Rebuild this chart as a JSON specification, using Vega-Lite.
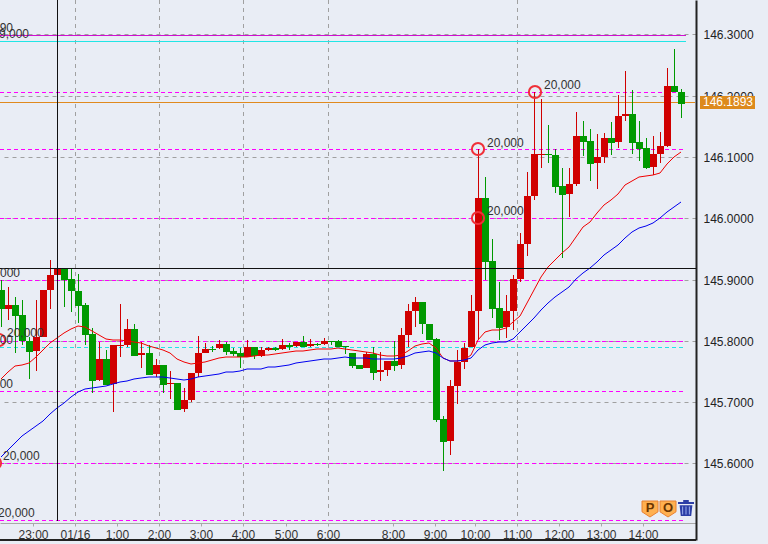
{"$schema":"https://vega.github.io/schema/vega-lite/v6.json","width":696,"height":540,"autosize":{"type":"none"},"padding":{"left":0,"top":0,"right":72,"bottom":4},"background":"#e9edf5",
"config":{"view":{"stroke":null},"text":{"font":"Liberation Sans"},"axis":{"labelFont":"Liberation Sans"}},
"datasets":{
"candles":[
{"k":0,"o":145.8830,"h":145.8993,"l":145.8227,"c":145.8520,"ma1":145.7378,"ma2":145.6106},
{"k":1,"o":145.8520,"h":145.8879,"l":145.8341,"c":145.8585,"ma1":145.7493,"ma2":145.6220},
{"k":2,"o":145.8585,"h":145.8716,"l":145.7802,"c":145.8406,"ma1":145.7590,"ma2":145.6334},
{"k":3,"o":145.8422,"h":145.8667,"l":145.7933,"c":145.7998,"ma1":145.7607,"ma2":145.6449},
{"k":4,"o":145.7998,"h":145.8063,"l":145.7378,"c":145.7819,"ma1":145.7639,"ma2":145.6530},
{"k":5,"o":145.7835,"h":145.8667,"l":145.7509,"c":145.8063,"ma1":145.7737,"ma2":145.6612},
{"k":6,"o":145.8063,"h":145.8830,"l":145.8063,"c":145.8830,"ma1":145.7851,"ma2":145.6693},
{"k":7,"o":145.8830,"h":145.9320,"l":145.8520,"c":145.9075,"ma1":145.7966,"ma2":145.6807},
{"k":8,"o":145.9075,"h":145.9450,"l":145.8896,"c":145.9173,"ma1":145.8047,"ma2":145.6905},
{"k":9,"o":145.9173,"h":145.9173,"l":145.8553,"c":145.8993,"ma1":145.8129,"ma2":145.6987},
{"k":10,"o":145.9010,"h":145.9189,"l":145.8471,"c":145.8814,"ma1":145.8194,"ma2":145.7085},
{"k":11,"o":145.8814,"h":145.9091,"l":145.8292,"c":145.8569,"ma1":145.8243,"ma2":145.7166},
{"k":12,"o":145.8585,"h":145.8618,"l":145.7933,"c":145.8096,"ma1":145.8227,"ma2":145.7215},
{"k":13,"o":145.8112,"h":145.8210,"l":145.7150,"c":145.7346,"ma1":145.8161,"ma2":145.7232},
{"k":14,"o":145.7362,"h":145.7982,"l":145.7346,"c":145.7705,"ma1":145.8096,"ma2":145.7248},
{"k":15,"o":145.7705,"h":145.7851,"l":145.7281,"c":145.7281,"ma1":145.8031,"ma2":145.7265},
{"k":16,"o":145.7297,"h":145.7933,"l":145.6840,"c":145.7933,"ma1":145.8014,"ma2":145.7297},
{"k":17,"o":145.7917,"h":145.8602,"l":145.7737,"c":145.7933,"ma1":145.8014,"ma2":145.7330},
{"k":18,"o":145.7933,"h":145.8357,"l":145.7900,"c":145.8194,"ma1":145.7998,"ma2":145.7346},
{"k":19,"o":145.8194,"h":145.8276,"l":145.7754,"c":145.7754,"ma1":145.7982,"ma2":145.7378},
{"k":20,"o":145.7770,"h":145.7982,"l":145.7558,"c":145.7802,"ma1":145.7966,"ma2":145.7395},
{"k":21,"o":145.7802,"h":145.7933,"l":145.7444,"c":145.7444,"ma1":145.7917,"ma2":145.7411},
{"k":22,"o":145.7460,"h":145.7705,"l":145.7411,"c":145.7607,"ma1":145.7884,"ma2":145.7411},
{"k":23,"o":145.7607,"h":145.7607,"l":145.7150,"c":145.7281,"ma1":145.7851,"ma2":145.7411},
{"k":24,"o":145.7297,"h":145.7509,"l":145.7052,"c":145.7313,"ma1":145.7802,"ma2":145.7395},
{"k":25,"o":145.7313,"h":145.7313,"l":145.6873,"c":145.6873,"ma1":145.7705,"ma2":145.7378},
{"k":26,"o":145.6889,"h":145.7232,"l":145.6840,"c":145.7036,"ma1":145.7656,"ma2":145.7362},
{"k":27,"o":145.7036,"h":145.7476,"l":145.7003,"c":145.7476,"ma1":145.7623,"ma2":145.7378},
{"k":28,"o":145.7476,"h":145.8080,"l":145.7411,"c":145.7802,"ma1":145.7639,"ma2":145.7411},
{"k":29,"o":145.7802,"h":145.7966,"l":145.7802,"c":145.7868,"ma1":145.7656,"ma2":145.7428},
{"k":30,"o":145.7868,"h":145.7917,"l":145.7819,"c":145.7851,"ma1":145.7688,"ma2":145.7444},
{"k":31,"o":145.7884,"h":145.8014,"l":145.7868,"c":145.7949,"ma1":145.7721,"ma2":145.7460},
{"k":32,"o":145.7949,"h":145.7982,"l":145.7770,"c":145.7819,"ma1":145.7737,"ma2":145.7493},
{"k":33,"o":145.7835,"h":145.7884,"l":145.7754,"c":145.7786,"ma1":145.7737,"ma2":145.7493},
{"k":34,"o":145.7802,"h":145.7884,"l":145.7558,"c":145.7737,"ma1":145.7737,"ma2":145.7509},
{"k":35,"o":145.7737,"h":145.8014,"l":145.7737,"c":145.7900,"ma1":145.7737,"ma2":145.7542},
{"k":36,"o":145.7900,"h":145.7900,"l":145.7705,"c":145.7754,"ma1":145.7754,"ma2":145.7542},
{"k":37,"o":145.7754,"h":145.7900,"l":145.7737,"c":145.7851,"ma1":145.7770,"ma2":145.7542},
{"k":38,"o":145.7851,"h":145.7900,"l":145.7835,"c":145.7884,"ma1":145.7770,"ma2":145.7574},
{"k":39,"o":145.7884,"h":145.7900,"l":145.7835,"c":145.7851,"ma1":145.7786,"ma2":145.7574},
{"k":40,"o":145.7868,"h":145.8031,"l":145.7851,"c":145.7933,"ma1":145.7802,"ma2":145.7590},
{"k":41,"o":145.7933,"h":145.7966,"l":145.7851,"c":145.7900,"ma1":145.7819,"ma2":145.7607},
{"k":42,"o":145.7917,"h":145.7982,"l":145.7900,"c":145.7982,"ma1":145.7835,"ma2":145.7639},
{"k":43,"o":145.7982,"h":145.8080,"l":145.7900,"c":145.7900,"ma1":145.7835,"ma2":145.7656},
{"k":44,"o":145.7917,"h":145.8031,"l":145.7900,"c":145.7949,"ma1":145.7851,"ma2":145.7672},
{"k":45,"o":145.7949,"h":145.7966,"l":145.7917,"c":145.7933,"ma1":145.7868,"ma2":145.7688},
{"k":46,"o":145.7949,"h":145.8047,"l":145.7933,"c":145.7998,"ma1":145.7868,"ma2":145.7705},
{"k":47,"o":145.7998,"h":145.7998,"l":145.7933,"c":145.7982,"ma1":145.7868,"ma2":145.7705},
{"k":48,"o":145.7998,"h":145.8014,"l":145.7900,"c":145.7900,"ma1":145.7884,"ma2":145.7721},
{"k":49,"o":145.7917,"h":145.7917,"l":145.7786,"c":145.7900,"ma1":145.7868,"ma2":145.7737},
{"k":50,"o":145.7802,"h":145.7802,"l":145.7558,"c":145.7590,"ma1":145.7851,"ma2":145.7721},
{"k":51,"o":145.7607,"h":145.7607,"l":145.7542,"c":145.7542,"ma1":145.7835,"ma2":145.7721},
{"k":52,"o":145.7558,"h":145.7819,"l":145.7558,"c":145.7786,"ma1":145.7819,"ma2":145.7721},
{"k":53,"o":145.7786,"h":145.7900,"l":145.7362,"c":145.7476,"ma1":145.7802,"ma2":145.7705},
{"k":54,"o":145.7493,"h":145.7819,"l":145.7346,"c":145.7525,"ma1":145.7770,"ma2":145.7705},
{"k":55,"o":145.7525,"h":145.7672,"l":145.7428,"c":145.7672,"ma1":145.7754,"ma2":145.7705},
{"k":56,"o":145.7672,"h":145.7998,"l":145.7509,"c":145.7590,"ma1":145.7754,"ma2":145.7705},
{"k":57,"o":145.7607,"h":145.8210,"l":145.7542,"c":145.8096,"ma1":145.7770,"ma2":145.7721},
{"k":58,"o":145.8096,"h":145.8602,"l":145.7900,"c":145.8488,"ma1":145.7835,"ma2":145.7754},
{"k":59,"o":145.8488,"h":145.8716,"l":145.8227,"c":145.8634,"ma1":145.7917,"ma2":145.7802},
{"k":60,"o":145.8634,"h":145.8634,"l":145.8112,"c":145.8276,"ma1":145.7949,"ma2":145.7819},
{"k":61,"o":145.8276,"h":145.8276,"l":145.8014,"c":145.8014,"ma1":145.7966,"ma2":145.7835},
{"k":62,"o":145.8031,"h":145.8047,"l":145.6677,"c":145.6710,"ma1":145.7884,"ma2":145.7802},
{"k":63,"o":145.6726,"h":145.6775,"l":145.5877,"c":145.6351,"ma1":145.7721,"ma2":145.7721},
{"k":64,"o":145.6367,"h":145.7362,"l":145.6139,"c":145.7265,"ma1":145.7672,"ma2":145.7672},
{"k":65,"o":145.7265,"h":145.7851,"l":145.6971,"c":145.7656,"ma1":145.7672,"ma2":145.7672},
{"k":66,"o":145.7656,"h":145.7966,"l":145.7542,"c":145.7884,"ma1":145.7688,"ma2":145.7688},
{"k":67,"o":145.7900,"h":145.8749,"l":145.7900,"c":145.8488,"ma1":145.7770,"ma2":145.7721},
{"k":68,"o":145.8488,"h":146.1130,"l":145.8014,"c":146.0331,"ma1":145.8014,"ma2":145.7851},
{"k":69,"o":146.0331,"h":146.0674,"l":145.8993,"c":145.9287,"ma1":145.8145,"ma2":145.7933},
{"k":70,"o":145.9303,"h":145.9662,"l":145.8373,"c":145.8520,"ma1":145.8178,"ma2":145.7966},
{"k":71,"o":145.8537,"h":145.8961,"l":145.8014,"c":145.8210,"ma1":145.8178,"ma2":145.7982},
{"k":72,"o":145.8227,"h":145.8749,"l":145.8047,"c":145.8488,"ma1":145.8210,"ma2":145.7982},
{"k":73,"o":145.8488,"h":145.9075,"l":145.8178,"c":145.9010,"ma1":145.8308,"ma2":145.8031},
{"k":74,"o":145.9010,"h":145.9760,"l":145.8961,"c":145.9581,"ma1":145.8406,"ma2":145.8145},
{"k":75,"o":145.9581,"h":146.0755,"l":145.9385,"c":146.0364,"ma1":145.8618,"ma2":145.8259},
{"k":76,"o":146.0364,"h":146.2060,"l":146.0298,"c":146.1049,"ma1":145.8830,"ma2":145.8373},
{"k":77,"o":146.1033,"h":146.1946,"l":146.0820,"c":146.1049,"ma1":145.9042,"ma2":145.8504},
{"k":78,"o":146.1049,"h":146.1522,"l":146.0902,"c":146.1033,"ma1":145.9205,"ma2":145.8618},
{"k":79,"o":146.1033,"h":146.1130,"l":146.0413,"c":146.0510,"ma1":145.9320,"ma2":145.8716},
{"k":80,"o":146.0527,"h":146.0820,"l":145.9352,"c":146.0380,"ma1":145.9434,"ma2":145.8798},
{"k":81,"o":146.0396,"h":146.0820,"l":146.0021,"c":146.0559,"ma1":145.9532,"ma2":145.8879},
{"k":82,"o":146.0559,"h":146.1734,"l":146.0527,"c":146.1342,"ma1":145.9695,"ma2":145.9010},
{"k":83,"o":146.1342,"h":146.1587,"l":146.1016,"c":146.1245,"ma1":145.9858,"ma2":145.9108},
{"k":84,"o":146.1261,"h":146.1457,"l":146.0608,"c":146.0886,"ma1":145.9940,"ma2":145.9189},
{"k":85,"o":146.0902,"h":146.1375,"l":146.0478,"c":146.1000,"ma1":146.0086,"ma2":145.9287},
{"k":86,"o":146.1000,"h":146.1391,"l":146.0902,"c":146.1310,"ma1":146.0217,"ma2":145.9401},
{"k":87,"o":146.1310,"h":146.1571,"l":146.1033,"c":146.1228,"ma1":146.0298,"ma2":145.9483},
{"k":88,"o":146.1245,"h":146.2011,"l":146.1147,"c":146.1669,"ma1":146.0396,"ma2":145.9564},
{"k":89,"o":146.1669,"h":146.2403,"l":146.1587,"c":146.1701,"ma1":146.0543,"ma2":145.9679},
{"k":90,"o":146.1701,"h":146.2093,"l":146.1049,"c":146.1228,"ma1":146.0608,"ma2":145.9776},
{"k":91,"o":146.1245,"h":146.1587,"l":146.0935,"c":146.1130,"ma1":146.0674,"ma2":145.9842},
{"k":92,"o":146.1147,"h":146.1310,"l":146.0804,"c":146.0820,"ma1":146.0690,"ma2":145.9875},
{"k":93,"o":146.0837,"h":146.1342,"l":146.0706,"c":146.1049,"ma1":146.0706,"ma2":145.9923},
{"k":94,"o":146.1049,"h":146.1408,"l":146.0902,"c":146.1179,"ma1":146.0739,"ma2":146.0005},
{"k":95,"o":146.1179,"h":146.2452,"l":146.1163,"c":146.2158,"ma1":146.0886,"ma2":146.0103},
{"k":96,"o":146.2158,"h":146.2762,"l":146.2060,"c":146.2060,"ma1":146.1000,"ma2":146.0184},
{"k":97,"o":146.2060,"h":146.2109,"l":146.1636,"c":146.1864,"ma1":146.1081,"ma2":146.0266}
],
"levelsDashed":[
{"price":146.2060,"kind":"magenta","from":-0.2,"to":97.7},
{"price":146.1130,"kind":"magenta","from":-0.2,"to":97.7},
{"price":146.0005,"kind":"magenta","from":-0.2,"to":97.7},
{"price":145.8993,"kind":"magenta","from":-0.2,"to":97.7},
{"price":145.7998,"kind":"magenta","from":-0.2,"to":97.7},
{"price":145.7900,"kind":"cyan","from":-0.2,"to":97.7},
{"price":145.7183,"kind":"magenta","from":-0.2,"to":97.7},
{"price":145.6008,"kind":"magenta","from":-0.2,"to":97.7},
{"price":145.5078,"kind":"magenta","from":-0.2,"to":97.7}
],
"levelsSolid":[
{"price":146.2990,"kind":"magentaSolid","from":-0.2,"to":97.7},
{"price":146.2892,"kind":"cyanSolid","from":-0.2,"to":97.7},
{"price":146.1893,"kind":"orange","from":-0.2,"to":99}
],
"vgrid":[{"k":10.55,"top":146.3561,"bottom":145.5054},{"k":22.55,"top":146.3561,"bottom":145.5054},{"k":34.55,"top":146.3561,"bottom":145.5054},{"k":46.65,"top":146.3561,"bottom":145.5054},{"k":73.6,"top":146.3561,"bottom":145.5054}],
"markers":[{"k":68,"price":146.1130},{"k":68,"price":146.0005},{"k":76.1,"price":146.2060},{"k":-0.33,"price":145.8014},{"k":-0.9,"price":145.6008}],
"labelsLeft":[
{"k":69.3,"price":146.1228,"label":"20,000"},
{"k":69.3,"price":146.0119,"label":"20,000"},
{"k":77.4,"price":146.2174,"label":"20,000"},
{"k":0.8,"price":145.8129,"label":"20,000"},
{"k":0.24,"price":145.6122,"label":"20,000"},
{"k":-0.47,"price":145.5193,"label":"20,000"}],
"labelsRight":[
{"k":1.65,"price":146.3105,"label":"90"},
{"k":3.95,"price":146.3007,"label":"9,000"},
{"k":2.65,"price":145.9107,"label":"000"},
{"k":1.65,"price":145.8014,"label":"00"},
{"k":1.65,"price":145.7297,"label":"00"}]
},
"layer":[
{"data":{"name":"vgrid"},"mark":{"type":"rule","strokeDash":[4,4],"color":"#a0a0a0","strokeWidth":1,"xOffset":0.5},
"encoding":{"x":{"field":"k","type":"quantitative","scale":{"domain":[-0.185,99.1],"round":true,"padding":0},"axis":{"title":null,"orient":"bottom","offset":-17,"values":[4.56,10.55,16.55,22.55,28.55,34.55,40.55,46.65,55.9,61.9,67.6,73.6,79.6,85.6,91.6],"labelExpr":"({'4.56':'23:00','10.55':'01/16','16.55':'1:00','22.55':'2:00','28.55':'3:00','34.55':'4:00','40.55':'5:00','46.65':'6:00','55.9':'8:00','61.9':'9:00','67.6':'10:00','73.6':'11:00','79.6':'12:00','85.6':'13:00','91.6':'14:00'})[datum.value]","labelFontSize":12,"labelColor":"#333333","labelPadding":3,"labelOverlap":false,"labelFlush":false,"domainColor":"#a8a8a8","tickColor":"#a8a8a8","tickSize":3,"grid":false}},
"y":{"field":"top","type":"quantitative","scale":{"domain":[145.4752,146.3561],"round":true},"axis":{"title":null,"orient":"right","values":[145.6,145.7,145.8,145.9,146.0,146.1,146.2,146.3],"format":".4f","grid":true,"gridDash":[4,4],"gridColor":"#a0a0a0","domainColor":"#222222","domainWidth":2,"tickSize":0,"labelPadding":7,"labelFontSize":12,"labelColor":"#222222","labelOverlap":false,"labelFlush":false}},
"y2":{"field":"bottom"}}},
{"data":{"name":"levelsSolid"},"mark":{"type":"rule","strokeWidth":1,"yOffset":0.5},
"encoding":{"x":{"field":"from","type":"quantitative","scale":{"domain":[-0.185,99.1]}},"x2":{"field":"to"},"y":{"field":"price","type":"quantitative","scale":{"domain":[145.4752,146.3561]}},
"color":{"field":"kind","type":"nominal","legend":null,"scale":{"domain":["magenta","magentaSolid","cyan","cyanSolid","orange"],"range":["#ff00ff","#d010d0","#22e5e5","#22e5e5","#e08a1e"]}}}},
{"data":{"name":"levelsDashed"},"mark":{"type":"rule","strokeWidth":1,"yOffset":0.5,"strokeDash":[4,3]},
"encoding":{"x":{"field":"from","type":"quantitative","scale":{"domain":[-0.185,99.1]}},"x2":{"field":"to"},"y":{"field":"price","type":"quantitative","scale":{"domain":[145.4752,146.3561]}},
"color":{"field":"kind","type":"nominal","legend":null,"scale":{"domain":["magenta","magentaSolid","cyan","cyanSolid","orange"],"range":["#ff00ff","#d010d0","#22e5e5","#22e5e5","#e08a1e"]}}}},
{"data":{"name":"candles"},"mark":{"type":"rule","strokeWidth":1,"xOffset":0.5},
"encoding":{"x":{"field":"k","type":"quantitative","scale":{"domain":[-0.185,99.1]}},"y":{"field":"h","type":"quantitative","scale":{"domain":[145.4752,146.3561]}},"y2":{"field":"l"},
"color":{"condition":{"test":"datum.c>=datum.o","value":"#d00000"},"value":"#009900"}}},
{"data":{"name":"candles"},"mark":{"type":"bar","size":7,"xOffset":0.5},
"encoding":{"x":{"field":"k","type":"quantitative","scale":{"domain":[-0.185,99.1]}},"y":{"field":"o","type":"quantitative","scale":{"domain":[145.4752,146.3561]}},"y2":{"field":"c"},
"color":{"condition":{"test":"datum.c>=datum.o","value":"#d00000"},"value":"#009900"}}},
{"data":{"name":"candles"},"mark":{"type":"line","color":"#f00000","strokeWidth":1},
"encoding":{"x":{"field":"k","type":"quantitative","scale":{"domain":[-0.185,99.1]}},"y":{"field":"ma1","type":"quantitative","scale":{"domain":[145.4752,146.3561]}}}},
{"data":{"name":"candles"},"mark":{"type":"line","color":"#0000f0","strokeWidth":1},
"encoding":{"x":{"field":"k","type":"quantitative","scale":{"domain":[-0.185,99.1]}},"y":{"field":"ma2","type":"quantitative","scale":{"domain":[145.4752,146.3561]}}}},
{"mark":{"type":"rule","color":"#111111","strokeWidth":1,"xOffset":0.5},"data":{"values":[{"k":7.9,"top":146.3561,"bottom":145.5054}]},
"encoding":{"x":{"field":"k","type":"quantitative","scale":{"domain":[-0.185,99.1]}},"y":{"field":"top","type":"quantitative","scale":{"domain":[145.4752,146.3561]}},"y2":{"field":"bottom"}}},
{"mark":{"type":"rule","color":"#111111","strokeWidth":1,"yOffset":0.5},"data":{"values":[{"price":145.9189,"from":-0.185,"to":99.1}]},
"encoding":{"x":{"field":"from","type":"quantitative","scale":{"domain":[-0.185,99.1]}},"x2":{"field":"to"},"y":{"field":"price","type":"quantitative","scale":{"domain":[145.4752,146.3561]}}}},
{"mark":{"type":"rule","color":"#222222","strokeWidth":2},"data":{"values":[{"price":145.4752,"from":-0.185,"to":99.1}]},
"encoding":{"x":{"field":"from","type":"quantitative","scale":{"domain":[-0.185,99.1]}},"x2":{"field":"to"},"y":{"field":"price","type":"quantitative","scale":{"domain":[145.4752,146.3561]}}}},
{"data":{"name":"markers"},"mark":{"type":"point","filled":false,"stroke":"#f03038","strokeWidth":2,"size":150,"opacity":1},
"encoding":{"x":{"field":"k","type":"quantitative","scale":{"domain":[-0.185,99.1]}},"y":{"field":"price","type":"quantitative","scale":{"domain":[145.4752,146.3561]}}}},
{"data":{"name":"labelsLeft"},"mark":{"type":"text","align":"left","baseline":"middle","fontSize":12,"color":"#333333"},
"encoding":{"x":{"field":"k","type":"quantitative","scale":{"domain":[-0.185,99.1]}},"y":{"field":"price","type":"quantitative","scale":{"domain":[145.4752,146.3561]}},"text":{"field":"label"}}},
{"data":{"name":"labelsRight"},"mark":{"type":"text","align":"right","baseline":"middle","fontSize":12,"color":"#333333"},
"encoding":{"x":{"field":"k","type":"quantitative","scale":{"domain":[-0.185,99.1]}},"y":{"field":"price","type":"quantitative","scale":{"domain":[145.4752,146.3561]}},"text":{"field":"label"}}},
{"mark":{"type":"rect","color":"#dd8a1c"},"data":{"values":[{"a":99.67,"b":107.5,"top":146.1995,"bot":146.1783}]},
"encoding":{"x":{"field":"a","type":"quantitative","scale":{"domain":[-0.185,99.1]}},"x2":{"field":"b"},"y":{"field":"top","type":"quantitative","scale":{"domain":[145.4752,146.3561]}},"y2":{"field":"bot"}}},
{"mark":{"type":"text","color":"#ffffff","fontSize":12,"baseline":"middle","align":"center"},"data":{"values":[{"k":103.6,"price":146.1889,"label":"146.1893"}]},
"encoding":{"x":{"field":"k","type":"quantitative","scale":{"domain":[-0.185,99.1]}},"y":{"field":"price","type":"quantitative","scale":{"domain":[145.4752,146.3561]}},"text":{"field":"label"}}},
{"mark":{"type":"point","shape":"M-1,-1 L1,-1 L1,0.35 L0,1 L-1,0.35 Z","filled":true,"fill":"#ffb050","stroke":"#e88030","strokeWidth":1,"size":256,"opacity":1},"data":{"values":[{"k":92.5,"price":145.5258,"label":"P"},{"k":95.06,"price":145.5258,"label":"O"}]},
"encoding":{"x":{"field":"k","type":"quantitative","scale":{"domain":[-0.185,99.1]}},"y":{"field":"price","type":"quantitative","scale":{"domain":[145.4752,146.3561]}}}},
{"mark":{"type":"text","fontSize":13,"fontWeight":"bold","color":"#6b3500","baseline":"middle","align":"center"},"data":{"values":[{"k":92.5,"price":145.5267,"label":"P"},{"k":95.06,"price":145.5267,"label":"O"}]},
"encoding":{"x":{"field":"k","type":"quantitative","scale":{"domain":[-0.185,99.1]}},"y":{"field":"price","type":"quantitative","scale":{"domain":[145.4752,146.3561]}},"text":{"field":"label"}}},
{"mark":{"type":"point","shape":"M-1,-0.75 L-0.35,-0.75 L-0.35,-1 L0.35,-1 L0.35,-0.75 L1,-0.75 L1,-0.5 L-1,-0.5 Z M-0.8,-0.35 L0.8,-0.35 L0.65,1 L-0.65,1 Z","filled":true,"fill":"#2c3ea6","strokeWidth":0,"size":256,"opacity":1},"data":{"values":[{"k":97.7,"price":145.5275}]},
"encoding":{"x":{"field":"k","type":"quantitative","scale":{"domain":[-0.185,99.1]}},"y":{"field":"price","type":"quantitative","scale":{"domain":[145.4752,146.3561]}}}},
{"mark":{"type":"point","shape":"M-0.48,-0.2 L-0.36,-0.2 L-0.36,0.8 L-0.48,0.8 Z M-0.06,-0.2 L0.06,-0.2 L0.06,0.8 L-0.06,0.8 Z M0.36,-0.2 L0.48,-0.2 L0.48,0.8 L0.36,0.8 Z","filled":true,"fill":"#9db0ee","strokeWidth":0,"size":256,"opacity":1},"data":{"values":[{"k":97.7,"price":145.5275}]},
"encoding":{"x":{"field":"k","type":"quantitative","scale":{"domain":[-0.185,99.1]}},"y":{"field":"price","type":"quantitative","scale":{"domain":[145.4752,146.3561]}}}}
]}
